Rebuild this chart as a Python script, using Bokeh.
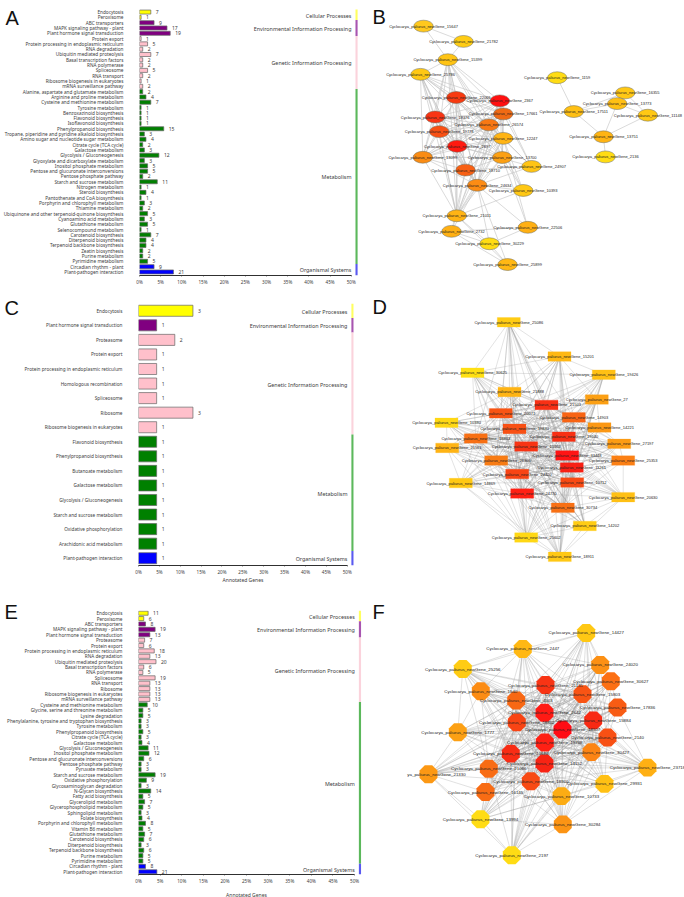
from itertools import combinations
import math
from bokeh.embed import file_html
from bokeh.layouts import column, row
from bokeh.models import ColumnDataSource, FactorRange, FixedTicker, Range1d
from bokeh.plotting import figure
from bokeh.resources import INLINE
from bokeh.core.properties import value

# ---------------- pathway bar panels ----------------
paths_A = ["Endocytosis","Peroxisome","ABC transporters","MAPK signaling pathway - plant","Plant hormone signal transduction",
 "Protein export","Protein processing in endoplasmic reticulum","RNA degradation","Ubiquitin mediated proteolysis","Basal transcription factors",
 "RNA polymerase","Spliceosome","RNA transport","Ribosome biogenesis in eukaryotes","mRNA surveillance pathway",
 "Alanine, aspartate and glutamate metabolism","Arginine and proline metabolism","Cysteine and methionine metabolism","Tyrosine metabolism","Benzoxazinoid biosynthesis",
 "Flavonoid biosynthesis","Isoflavonoid biosynthesis","Phenylpropanoid biosynthesis","Tropane, piperidine and pyridine alkaloid biosynthesis","Amino sugar and nucleotide sugar metabolism",
 "Citrate cycle (TCA cycle)","Galactose metabolism","Glycolysis / Gluconeogenesis","Glyoxylate and dicarboxylate metabolism","Inositol phosphate metabolism",
 "Pentose and glucuronate interconversions","Pentose phosphate pathway","Starch and sucrose metabolism","Nitrogen metabolism","Steroid biosynthesis",
 "Pantothenate and CoA biosynthesis","Porphyrin and chlorophyll metabolism","Thiamine metabolism","Ubiquinone and other terpenoid-quinone biosynthesis","Cyanoamino acid metabolism",
 "Glutathione metabolism","Selenocompound metabolism","Carotenoid biosynthesis","Diterpenoid biosynthesis","Terpenoid backbone biosynthesis",
 "Zeatin biosynthesis","Purine metabolism","Pyrimidine metabolism","Circadian rhythm - plant","Plant-pathogen interaction"]
counts_A = [7,1,9,17,19,1,5,2,7,2,2,5,2,1,2,2,4,7,1,1,1,1,15,3,4,2,3,12,3,5,5,2,11,1,4,1,3,2,5,3,5,1,7,4,4,2,2,5,9,21]
group_sizes_A = [2,3,10,33,2]
total_A = 262

paths_C = ["Endocytosis","Plant hormone signal transduction","Proteasome","Protein export","Protein processing in endoplasmic reticulum",
 "Homologous recombination","Spliceosome","Ribosome","Ribosome biogenesis in eukaryotes","Flavonoid biosynthesis",
 "Phenylpropanoid biosynthesis","Butanoate metabolism","Galactose metabolism","Glycolysis / Gluconeogenesis","Starch and sucrose metabolism",
 "Oxidative phosphorylation","Arachidonic acid metabolism","Plant-pathogen interaction"]
counts_C = [3,1,2,1,1,1,1,3,1,1,1,1,1,1,1,1,1,1]
group_sizes_C = [1,1,7,8,1]
total_C = 23

paths_E = ["Endocytosis","Peroxisome","ABC transporters","MAPK signaling pathway - plant","Plant hormone signal transduction",
 "Proteasome","Protein export","Protein processing in endoplasmic reticulum","RNA degradation","Ubiquitin mediated proteolysis",
 "Basal transcription factors","RNA polymerase","Spliceosome","RNA transport","Ribosome",
 "Ribosome biogenesis in eukaryotes","mRNA surveillance pathway","Cysteine and methionine metabolism","Glycine, serine and threonine metabolism","Lysine degradation",
 "Phenylalanine, tyrosine and tryptophan biosynthesis","Tyrosine metabolism","Phenylpropanoid biosynthesis","Citrate cycle (TCA cycle)","Galactose metabolism",
 "Glycolysis / Gluconeogenesis","Inositol phosphate metabolism","Pentose and glucuronate interconversions","Pentose phosphate pathway","Pyruvate metabolism",
 "Starch and sucrose metabolism","Oxidative phosphorylation","Glycosaminoglycan degradation","N-Glycan biosynthesis","Fatty acid biosynthesis",
 "Glycerolipid metabolism","Glycerophospholipid metabolism","Sphingolipid metabolism","Folate biosynthesis","Porphyrin and chlorophyll metabolism",
 "Vitamin B6 metabolism","Glutathione metabolism","Carotenoid biosynthesis","Diterpenoid biosynthesis","Terpenoid backbone biosynthesis",
 "Purine metabolism","Pyrimidine metabolism","Circadian rhythm - plant","Plant-pathogen interaction"]
counts_E = [11,6,8,19,13,7,6,18,13,20,6,5,19,13,13,13,13,10,5,5,3,3,5,3,4,11,12,6,3,3,19,9,3,14,5,7,5,3,4,8,5,7,6,3,6,5,5,8,21]
group_sizes_E = [2,3,12,30,2]
total_E = 494

group_names = ["Cellular Processes","Environmental Information Processing","Genetic Information Processing","Metabolism","Organismal Systems"]
group_colors = ["#ffff00","#800080","#ffc0cb","#008000","#0000ff"]
strip_colors = ["#ffff60","#a855b0","#fbd3dc","#5cb85c","#5a5af0"]
x_ticks = [0,5,10,15,20,25,30,35,40,45,50]

letters = ["A","B","C","D","E","F"]
titles = ["Annotated Genes","Annotated Genes"]

FONT = "Noto Sans"
TXT = "#3c3c3c"

def bar_panel(paths, counts, sizes, total, h, top, bottom, xend, pad):
    colors, spans = [], []
    s = 0
    for i, n in enumerate(sizes):
        colors += [group_colors[i]] * n
        spans.append((s, s + n))
        s += n
    pct = [c / total * 100 for c in counts]
    p = figure(width=364, height=h, output_backend="svg", toolbar_location=None,
               x_range=Range1d(0, xend),
               y_range=FactorRange(factors=paths[::-1], range_padding=pad, range_padding_units="absolute"),
               min_border_left=138, min_border_right=0, min_border_top=top, min_border_bottom=bottom,
               outline_line_color=None)
    p.background_fill_color = None
    p.border_fill_color = None
    p.grid.visible = False
    src = ColumnDataSource(dict(y=paths, right=pct, color=colors, lab=[str(c) for c in counts]))
    p.hbar(y="y", left=0, right="right", height=0.76, fill_color="color", line_color="#666666", line_width=0.7, source=src)
    p.text(x="right", y="y", text="lab", source=src, x_offset=5, text_align="left", text_baseline="middle",
           text_font=value(FONT), text_font_size="5px", text_color=TXT)
    for (a, b), name, col in zip(spans, group_names, strip_colors):
        t = (paths[a], 0.5)
        bt = (paths[b - 1], -0.5 - (pad if b == len(paths) else 0))
        p.quad(left=51.0, right=51.5, top=[t], bottom=[bt], fill_color=col, line_color=None)
        m = (a + b - 1) / 2
        idx = int(math.floor(m))
        p.text(x=[50.05], y=[(paths[idx], -(m - idx))], text=[name], y_offset=1, text_align="right",
               text_baseline="middle", text_font=value(FONT), text_font_size="5.4px", text_color=TXT)
    ax = p.xaxis[0]
    ax.ticker = FixedTicker(ticks=x_ticks)
    ax.major_label_overrides = {t: f"{t}%" for t in x_ticks}
    ax.bounds = (0, 50)
    ax.axis_line_color = "#303030"
    ax.axis_line_width = 1
    ax.major_tick_line_color = "#303030"
    ax.major_tick_line_width = 0.6
    ax.major_tick_in = 0
    ax.major_tick_out = 1
    ax.minor_tick_line_color = None
    ax.major_label_standoff = 2
    ax.major_label_text_font = FONT
    ax.major_label_text_font_size = "4.6px"
    ax.major_label_text_color = TXT
    ay = p.yaxis[0]
    ay.axis_line_color = None
    ay.major_tick_line_color = None
    ay.minor_tick_line_color = None
    ay.major_label_standoff = 10
    ay.major_label_text_font = FONT
    ay.major_label_text_font_size = "4.7px"
    ay.major_label_text_color = TXT
    return p

# ---------------- network panels ----------------
PFX = "Cyclocarya_paliurus_newGene_"

b_genes = ["15647","21782","15399","25786","22066","2367","17661","18376","26574","19778","12247","2897","13099","13700","24907","18710","24634","10393","21011","2732","22506","30229","25899","1159","16355","13773","17511","11148","13751","2136"]
b_x = [423,463,447.3,420,455.7,499.3,502.7,434.7,488.3,438.7,502.7,456.7,422.3,501.7,531,465,476.7,522.7,456.3,451,527.3,489,507,556.7,624.7,616.7,573.3,647.3,603,605]
b_y = [19.3,36,56,72,97.3,101,115.3,118.7,127.3,134.7,142,150.7,162.7,163,172.7,176.7,193.3,199,226.7,243.7,239.3,257.3,280,75.7,92.3,104,112.7,116.7,140.3,162.3]
b_colors = ["#ffc81e","#ffcc14","#ffc414","#ffc814","#f83a10","#ff1010","#f06a14","#f83414","#f87814","#f85014","#ffb414","#ff1a10","#fa8c14","#fca014","#ffc414","#f86014","#fc8c14","#ffc814","#ffb414","#ffb014","#ffb014","#ffdc14","#ffb814","#ffdc14","#ffc814","#ffc014","#ffc014","#ffc814","#ffb414","#ffdc14"]
b_core = ["22066","2367","17661","18376","26574","19778","12247","2897","13099","13700","18710","24634"]
b_hubs = ["15399","25786","21011"]
b_extra = [("15647","21782"),("15647","15399"),("21782","15399"),("15399","25786"),("15399","21011"),("25786","21011"),
 ("24907","2367"),("24907","17661"),("24907","26574"),("24907","2897"),("24907","18710"),("24907","12247"),("24907","24634"),
 ("10393","24634"),("10393","21011"),("10393","26574"),("10393","12247"),("10393","13700"),
 ("2732","21011"),("2732","24634"),("2732","18710"),("2732","30229"),("2732","22506"),("2732","25899"),
 ("22506","24634"),("22506","13700"),("22506","30229"),("22506","12247"),
 ("30229","21011"),("30229","24634"),("30229","25899"),("25899","21011"),("25899","24634"),
 ("1159","17511"),("17511","16355"),("17511","13773"),("17511","13751"),("16355","13773"),("16355","11148"),("13773","11148"),("13773","13751"),("11148","13751"),("13751","2136")]

d_genes = ["25086","15201","19426","30625","21888","27","21503","20071","14903","10380","19830","14221","19540","18863","27197","10360","21561","33448","26366","25353","11261","24420","10712","14869","24770","20630","30734","14202","25602","18911"]
d_x = [508.3,559,603.3,472,509,596.3,546,500.3,573.3,446,514,599,563.3,475.3,618.7,525.7,446.7,566.7,495.7,622.7,571.3,516.7,571.7,460.3,521.7,622.7,562.3,584.3,525.7,559.3]
d_y = [313.7,353.3,374.3,372,394.3,403,409.3,419,423.7,430,437,435.3,446,448,454.3,457.3,459,467.7,473.7,473.7,481.7,489.3,499,499.7,511.7,516,528.3,549.3,562.7,585]
d_colors = ["#ffcc14","#ffb814","#ffc014","#ffe014","#ffb414","#fca014","#f83014","#f85414","#f86414","#ffd814","#f85014","#fc9814","#f83014","#f87014","#fc9c14","#f83414","#ffb414","#ff1414","#f87c14","#fc8014","#f82014","#f84414","#f84a14","#ffc814","#ff2014","#ffc014","#f87014","#ffcc14","#ffd814","#ffc814"]
d_core = ["21503","20071","14903","19830","19540","18863","10360","33448","26366","11261","24420","10712","24770","30734"]
d_outer = ["25086","15201","19426","30625","21888","27","10380","14221","27197","21561","25353","14869","20630","14202","25602","18911"]
d_extra = [("25086","15201"),("25086","30625"),("25086","21888"),("15201","19426"),("30625","19426"),("30625","15201"),("30625","21888"),("15201","21888"),("19426","27"),("15201","27"),
 ("27","14221"),("14221","27197"),("27197","25353"),("25353","20630"),("10380","21561"),("21561","14869"),("10380","21888"),
 ("25602","18911"),("14202","18911"),("20630","14202"),("25602","14202"),("14869","25602"),("14869","18911"),("20630","18911"),("20630","25602"),("10380","25602"),("21561","25602")]

f_genes = ["14427","2447","24020","25256","30627","21131","15803","1540","4503","17836","2642","15884","18802","18507","1777","2140","19768","30427","10680","14152","21066","23718","21330","18900","29931","16145","10733","13994","30284","2197"]
f_x = [585.7,522.3,599.7,462.3,610.3,545,582,480.3,515.7,617,544,592.7,516.3,562,457.3,607,544.3,591,510.3,544,488.3,647,428,530.3,604,485,561,480,562.3,511.3]
f_y = [620.7,639,657.3,662,676,680.3,690.7,687.3,698,706,712,720.7,723,731.3,734.3,740.3,746,757,758.7,770,776,774.7,782.3,790.3,793.3,802.7,807.3,833.7,839.7,875]
f_colors = ["#ffc814","#ffb814","#fc9014","#ffcc14","#fc7014","#f83414","#f85414","#fc8c14","#f86814","#f85c14","#ff1a14","#f82a14","#f84414","#ff0c14","#fca014","#f85014","#ff2014","#fc8414","#f82c14","#f82414","#f86c14","#ffb014","#fc9814","#f84a14","#ffc014","#f86c14","#fcac14","#ffdc14","#fc9414","#ffdc14"]
f_core = ["21131","15803","4503","2642","15884","18802","18507","2140","19768","30427","10680","14152","21066","18900"]
f_outer = ["14427","2447","24020","25256","30627","1540","17836","1777","23718","21330","29931","16145","10733","13994","30284","2197"]
f_extra = [("14427","2447"),("14427","24020"),("14427","25256"),("2447","25256"),("2447","24020"),("2447","1540"),("25256","1540"),("24020","30627"),("30627","17836"),("14427","30627"),
 ("25256","1777"),("1540","1777"),("1777","21330"),("21330","16145"),("21330","13994"),("21330","2197"),("13994","2197"),("30284","2197"),("13994","30284"),("10733","30284"),
 ("29931","30284"),("23718","29931"),("23718","30284"),("23718","17836"),("23718","10733"),("16145","13994"),("10733","13994"),("29931","13994"),("10733","2197")]

def edge_list(core, outer, extra):
    e = list(combinations(core, 2))
    for o in outer:
        e += [(o, c) for c in core]
    return e + extra

def net_panel(genes, xs, ys, colors, edges, shape, x0, y0, h, fs, ew, ec, ea, label_override=None):
    p = figure(width=320, height=h, output_backend="svg", toolbar_location=None,
               x_range=Range1d(x0, x0 + 320), y_range=Range1d(y0 + h, y0),
               min_border=0, outline_line_color=None)
    p.background_fill_color = None
    p.border_fill_color = None
    p.axis.visible = False
    p.grid.visible = False
    pos = {g: (x, y) for g, x, y in zip(genes, xs, ys)}
    p.segment(x0=[pos[a][0] for a, b in edges], y0=[pos[a][1] for a, b in edges],
              x1=[pos[b][0] for a, b in edges], y1=[pos[b][1] for a, b in edges],
              line_color=ec, line_width=ew, line_alpha=ea)
    src = ColumnDataSource(dict(x=xs, y=ys, color=colors))
    if shape == "ellipse":
        p.ellipse(x="x", y="y", width=19.5, height=13, fill_color="color", line_color="#6a6a5a", line_width=0.5, source=src)
    elif shape == "rect":
        p.rect(x="x", y="y", width=23, height=11, fill_color="color", line_color="color", line_alpha=0.5, line_width=0.5, source=src)
    else:
        p.ngon(x="x", y="y", radius=9.7, n=8, angle=math.pi / 8, fill_color="color", line_color=None, source=src)
    labels = [PFX + g for g in genes]
    lx = list(xs)
    if label_override:
        for g, (txt, cx) in label_override.items():
            i = genes.index(g)
            labels[i] = txt
            lx[i] = cx
    p.text(x=lx, y=ys, text=labels, text_align="center", text_baseline="middle",
           text_font=value("Liberation Sans"), text_font_size=fs, text_color="#222222")
    return p

b_edges = list(combinations(b_core, 2)) + [(o, c) for o in b_hubs for c in b_core] + b_extra

A = bar_panel(paths_A, counts_A, group_sizes_A, total_A, 292, 8, 17, 53.13, 0.17)
C = bar_panel(paths_C, counts_C, group_sizes_C, total_C, 303, 11, 30, 54.14, 0.0)
E = bar_panel(paths_E, counts_E, group_sizes_E, total_E, 302, 15, 23, 52.3, 0.0)
B = net_panel(b_genes, b_x, b_y, b_colors, b_edges, "ellipse", 364, 0, 292, "4px", 0.7, "#c4c4c4", 0.9)
D = net_panel(d_genes, d_x, d_y, d_colors, edge_list(d_core, d_outer, d_extra), "rect", 364, 292, 303, "4px", 0.5, "#9a9a9a", 0.55)
F = net_panel(f_genes, f_x, f_y, f_colors, edge_list(f_core, f_outer, f_extra), "octagon", 364, 595, 302, "4.4px", 0.55, "#9a9a9a", 0.55,
              label_override={"21330": ("ya_paliurus_newGene_21330", 436)})

# transparent overlay for the panel letters and the two axis titles
overlay = figure(width=684, height=897, output_backend="svg", toolbar_location=None,
                 x_range=Range1d(0, 684), y_range=Range1d(897, 0), min_border=0, outline_line_color=None,
                 styles={"position": "absolute", "left": "0px", "top": "0px", "pointer-events": "none"})
overlay.background_fill_color = None
overlay.border_fill_color = None
overlay.axis.visible = False
overlay.grid.visible = False
overlay.text(x=[5, 372, 4, 372, 4, 372], y=[17, 16, 307, 306, 611, 611], text=letters,
             text_align="left", text_baseline="alphabetic",
             text_font=value("Liberation Sans"), text_font_size="20px", text_color="#111111")
overlay.text(x=[242.5, 246], y=[579, 894], text=titles, text_align="center", text_baseline="middle",
             text_font=value(FONT), text_font_size="5px", text_color=TXT)

page = column(row(A, B), row(C, D), row(E, F), spacing=0,
              styles={"position": "absolute", "left": "0px", "top": "0px"})
open("out.html", "w").write(file_html([page, overlay], INLINE))
